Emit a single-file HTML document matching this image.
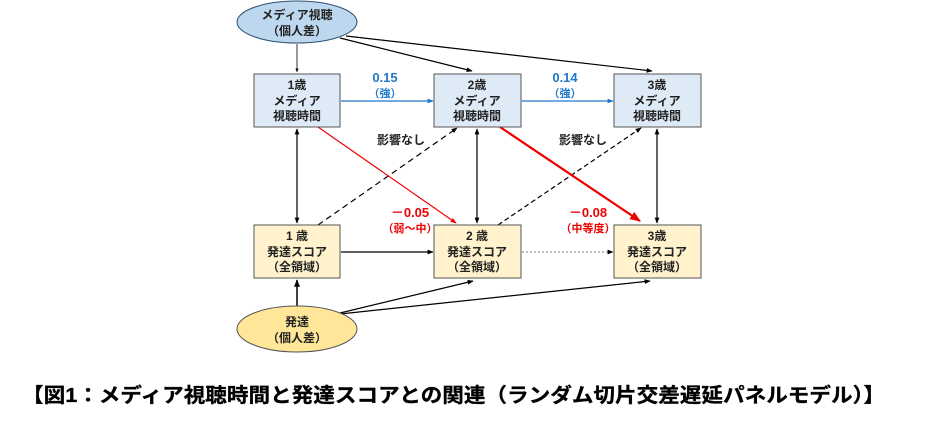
<!DOCTYPE html>
<html><head><meta charset="utf-8"><style>
body{margin:0;background:#fff;width:939px;height:426px;overflow:hidden;font-family:"Liberation Sans","Noto Sans CJK JP",sans-serif}
</style></head><body>
<svg width="939" height="426" viewBox="0 0 939 426" xmlns="http://www.w3.org/2000/svg" font-family="Liberation Sans, Noto Sans CJK JP, sans-serif" font-weight="bold">
<defs>
<marker id="k" viewBox="0 0 10 10" refX="9" refY="5" markerWidth="5" markerHeight="5" orient="auto-start-reverse"><path d="M0,1L10,5L0,9z" fill="#000"/></marker>
<marker id="b" viewBox="0 0 10 10" refX="9" refY="5" markerWidth="5" markerHeight="5" orient="auto"><path d="M0,1L10,5L0,9z" fill="#1f78c8"/></marker>
<marker id="r" viewBox="0 0 10 10" refX="9" refY="5" markerWidth="5" markerHeight="5" orient="auto"><path d="M0,1L10,5L0,9z" fill="#e00"/></marker>
</defs>
<g stroke="#000" stroke-width="1.2" fill="none">
<line x1="297" y1="44" x2="297" y2="72" marker-end="url(#k)" stroke-width="0.8"/>
<line x1="340" y1="38" x2="472" y2="71" marker-end="url(#k)"/>
<line x1="346" y1="36" x2="652" y2="71" marker-end="url(#k)"/>
<line x1="297" y1="129" x2="297" y2="223" marker-start="url(#k)" marker-end="url(#k)"/>
<line x1="477" y1="129" x2="477" y2="223" marker-start="url(#k)" marker-end="url(#k)"/>
<line x1="657" y1="129" x2="657" y2="223" marker-start="url(#k)" marker-end="url(#k)"/>
<line x1="318" y1="225" x2="457" y2="128" stroke-dasharray="6,4" marker-end="url(#k)"/>
<line x1="498" y1="225" x2="641" y2="128" stroke-dasharray="5,3" marker-end="url(#k)"/>
<line x1="341" y1="252" x2="433" y2="252" marker-end="url(#k)"/>
<line x1="522" y1="252" x2="613" y2="252" stroke="#999" stroke-dasharray="2,2" marker-end="url(#k)"/>
<line x1="297" y1="307" x2="297" y2="280" marker-end="url(#k)" stroke-width="1.5"/>
<line x1="340" y1="313" x2="473" y2="281" marker-end="url(#k)"/>
<line x1="340" y1="314" x2="650" y2="281" marker-end="url(#k)"/>
</g>
<line x1="341" y1="101" x2="433" y2="101" stroke="#1f78c8" stroke-width="1.2" marker-end="url(#b)"/>
<line x1="522" y1="101" x2="613" y2="101" stroke="#1f78c8" stroke-width="1.2" marker-end="url(#b)"/>
<line x1="318" y1="127" x2="456" y2="223" stroke="#e00" stroke-width="1.2" marker-end="url(#r)"/>
<line x1="500" y1="127" x2="640" y2="221" stroke="#e00" stroke-width="2.2" marker-end="url(#r)"/>
<ellipse cx="297" cy="22" rx="60" ry="21" fill="#bdd7ee" stroke="#2f4f6f" stroke-width="1"/>
<ellipse cx="297" cy="329" rx="60" ry="23" fill="#ffe699" stroke="#555" stroke-width="1"/>
<g fill="#deebf7" stroke="#555" stroke-width="1">
<rect x="254" y="74" width="86" height="53"/><rect x="434" y="74" width="87" height="53"/><rect x="614" y="74" width="87" height="53"/>
</g>
<g fill="#fff2cc" stroke="#555" stroke-width="1">
<rect x="254" y="225" width="86" height="53"/><rect x="434" y="225" width="87" height="53"/><rect x="614" y="225" width="87" height="53"/>
</g>
<g font-size="12" text-anchor="middle" fill="#222">
<text x="297" y="19">メディア視聴</text><text x="297" y="35">（個人差）</text>
<text x="297" y="326">発達</text><text x="297" y="342">（個人差）</text>
<text x="297" y="89">1歳</text><text x="297" y="105">メディア</text><text x="297" y="120">視聴時間</text>
<text x="477" y="89">2歳</text><text x="477" y="105">メディア</text><text x="477" y="120">視聴時間</text>
<text x="657" y="89">3歳</text><text x="657" y="105">メディア</text><text x="657" y="120">視聴時間</text>
<text x="297" y="240">1 歳</text><text x="297" y="256">発達スコア</text><text x="297" y="271">（全領域）</text>
<text x="477" y="240">2 歳</text><text x="477" y="256">発達スコア</text><text x="477" y="271">（全領域）</text>
<text x="657" y="240">3歳</text><text x="657" y="256">発達スコア</text><text x="657" y="271">（全領域）</text>
<text x="401" y="144">影響なし</text><text x="583" y="144">影響なし</text>
</g>
<g font-size="13" text-anchor="middle" fill="#1f78c8">
<text x="385" y="82">0.15</text><text x="385" y="97" font-size="11">（強）</text>
<text x="565" y="82">0.14</text><text x="565" y="97" font-size="11">（強）</text>
</g>
<g font-size="13" text-anchor="middle" fill="#e00">
<text x="410" y="217">－0.05</text><text x="410" y="232" font-size="11">（弱～中）</text>
<text x="588" y="217">－0.08</text><text x="588" y="232" font-size="11">（中等度）</text>
</g>
<text x="22" y="402" font-size="20" fill="#000" stroke="#000" stroke-width="0.3" textLength="863" lengthAdjust="spacingAndGlyphs">【図1：メディア視聴時間と発達スコアとの関連（ランダム切片交差遅延パネルモデル）】</text>
</svg>
</body></html>
